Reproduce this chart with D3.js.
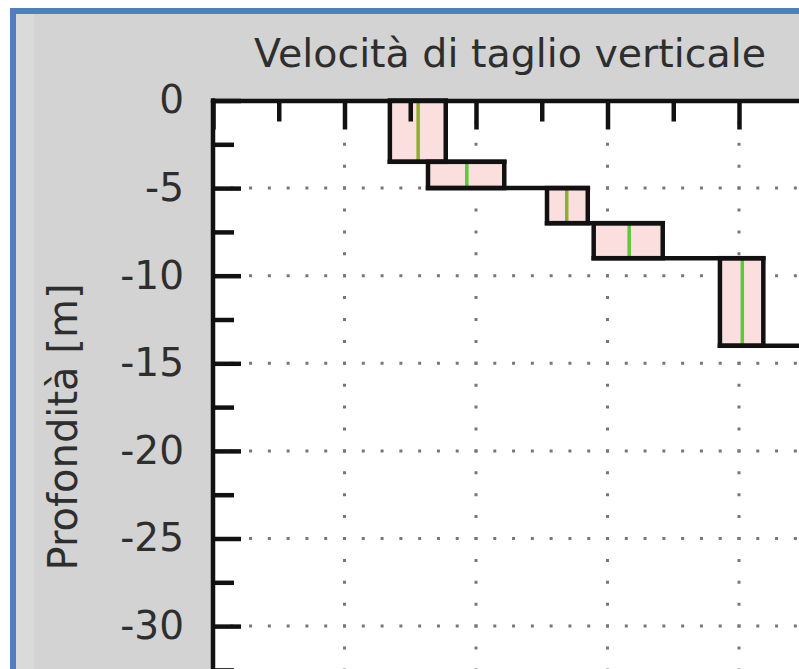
<!DOCTYPE html>
<html>
<head>
<meta charset="utf-8">
<script src="https://cdn.jsdelivr.net/npm/d3@7"></script>
<style>
html,body{margin:0;padding:0;background:#fff;overflow:hidden;}
svg{display:block;font-family:"DejaVu Sans",Verdana,sans-serif;}
</style>
</head>
<body>
<svg id="chart" width="799" height="669"></svg>
<script>
// ---- data ----
const layerTop    = [0, 3.5, 5, 7, 9, 14];          // depth of layer top [m]
const layerBottom = [3.5, 5, 7, 9, 14, 32];         // depth of layer bottom [m]
const vsMin  = [269, 327, 508, 579, 771, 960];      // m/s
const vsMax  = [354, 443, 570, 684, 837, 1120];
const vsMean = [312, 386, 538, 633, 805, 1040];
const yTicks = [0, -5, -10, -15, -20, -25, -30];
const yMinorTicks = [-2.5, -7.5, -12.5, -17.5, -22.5, -27.5, -32.5];
const xTicks = [0, 200, 400, 600, 800, 1000];
const xMinorTicks = [100, 300, 500, 700, 900];
const title = "Velocità di taglio verticale";
const yLabel = "Profondità [m]";

const svg = d3.select("#chart");
const W = 799, H = 669;

// frame
svg.append("rect").attr("x", 10).attr("y", 8).attr("width", W).attr("height", H).attr("fill", "#4f80bd");
svg.append("rect").attr("x", 16).attr("y", 14).attr("width", W).attr("height", H).attr("fill", "#d3d3d3");
svg.append("rect").attr("x", 16).attr("y", 14).attr("width", 18).attr("height", H).attr("fill", "#dadada");

const x0 = 213, y0 = 100.5;
const x = d3.scaleLinear().domain([0, 1000]).range([x0, x0 + 657.5]);
const y = d3.scaleLinear().domain([0, -35]).range([y0, y0 + 35 * 17.52]);

// plot area
svg.append("rect").attr("x", x0).attr("y", y0).attr("width", 700).attr("height", 700).attr("fill", "#fff");

// grid
const g = svg.append("g");
const hStep = (x(200) - x(0)) / 7;
g.selectAll(".hg").data(yTicks.filter(d => d !== 0)).join("line")
  .attr("x1", x0 + 2).attr("x2", 900)
  .attr("y1", d => y(d)).attr("y2", d => y(d))
  .attr("stroke", "#777").attr("stroke-width", 3)
  .attr("stroke-dasharray", `3,${hStep - 3}`)
  .attr("stroke-dashoffset", -(hStep - 2 - 1.5));
const vStep = (y(-5) - y(0)) / 4;
g.selectAll(".vg").data(xTicks.filter(d => d !== 0)).join("line")
  .attr("x1", d => x(d)).attr("x2", d => x(d))
  .attr("y1", y0 - 1.5).attr("y2", 720)
  .attr("stroke", "#777").attr("stroke-width", 3)
  .attr("stroke-dasharray", `3,${vStep - 3}`);

// layers
const idx = d3.range(layerTop.length);
const L = svg.append("g");
L.selectAll("rect.layer").data(idx).join("rect")
  .attr("x", i => x(vsMin[i])).attr("y", i => y(-layerTop[i]))
  .attr("width", i => x(vsMax[i]) - x(vsMin[i]))
  .attr("height", i => y(-layerBottom[i]) - y(-layerTop[i]))
  .attr("fill", "#fbdede").attr("stroke", "none");
L.selectAll("line.mean").data(idx).join("line")
  .attr("x1", i => x(vsMean[i])).attr("x2", i => x(vsMean[i]))
  .attr("y1", i => y(-layerTop[i])).attr("y2", i => y(-layerBottom[i]))
  .attr("stroke", (i) => (i === 0 || i === 2) ? "#8fae2c" : "#5ec83a").attr("stroke-width", 3.5);
L.selectAll("rect.outline").data(idx).join("rect")
  .attr("x", i => x(vsMin[i])).attr("y", i => y(-layerTop[i]))
  .attr("width", i => x(vsMax[i]) - x(vsMin[i]))
  .attr("height", i => y(-layerBottom[i]) - y(-layerTop[i]))
  .attr("fill", "none").attr("stroke", "#111").attr("stroke-width", 4.5);
// connectors between layers
L.selectAll("line.conn").data(idx.slice(1)).join("line")
  .attr("x1", i => x(Math.min(vsMin[i - 1], vsMin[i])))
  .attr("x2", i => x(Math.max(vsMax[i - 1], vsMax[i])))
  .attr("y1", i => y(-layerTop[i])).attr("y2", i => y(-layerTop[i]))
  .attr("stroke", "#111").attr("stroke-width", 4.5).attr("stroke-linecap", "square");

// axes
const topMinor = svg.append("g").attr("transform", `translate(0,${y0})`)
  .call(d3.axisTop(x).tickValues(xMinorTicks).tickSize(-21).tickFormat(""));
const topMajor = svg.append("g").attr("transform", `translate(0,${y0})`)
  .call(d3.axisTop(x).tickValues(xTicks).tickSize(-29).tickSizeOuter(0).tickFormat(""));
const leftMinor = svg.append("g").attr("transform", `translate(${x0},0)`)
  .call(d3.axisLeft(y).tickValues(yMinorTicks).tickSize(-21).tickFormat(""));
const leftMajor = svg.append("g").attr("transform", `translate(${x0},0)`)
  .call(d3.axisLeft(y).tickValues(yTicks).tickSize(-28).tickSizeOuter(0).tickPadding(29).tickFormat(d => String(d)));
[topMinor, topMajor, leftMinor, leftMajor].forEach(a => {
  a.selectAll("line").attr("stroke", "#111").attr("stroke-width", 4.5);
  a.select(".domain").attr("stroke", "#111").attr("stroke-width", 4.5);
});
topMinor.select(".domain").remove();
leftMinor.select(".domain").remove();
leftMajor.select(".domain").attr("d", `M0,${y0}V700`);
leftMajor.selectAll("text").attr("font-size", 39).attr("fill", "#2e2e2e")
  .attr("font-family", "DejaVu Sans, Verdana, sans-serif");
// corner square
svg.append("rect").attr("x", x0 - 2.25).attr("y", y0 - 2.25).attr("width", 4.5).attr("height", 4.5).attr("fill", "#111");

// title & labels
svg.append("text").attr("x", 510).attr("y", 67).attr("text-anchor", "middle")
  .attr("font-size", 39.5).attr("fill", "#2e2e2e").text(title);
svg.append("text").attr("transform", "translate(77,427) rotate(-90)").attr("text-anchor", "middle")
  .attr("font-size", 40).attr("fill", "#2e2e2e").text(yLabel);
</script>
</body>
</html>
